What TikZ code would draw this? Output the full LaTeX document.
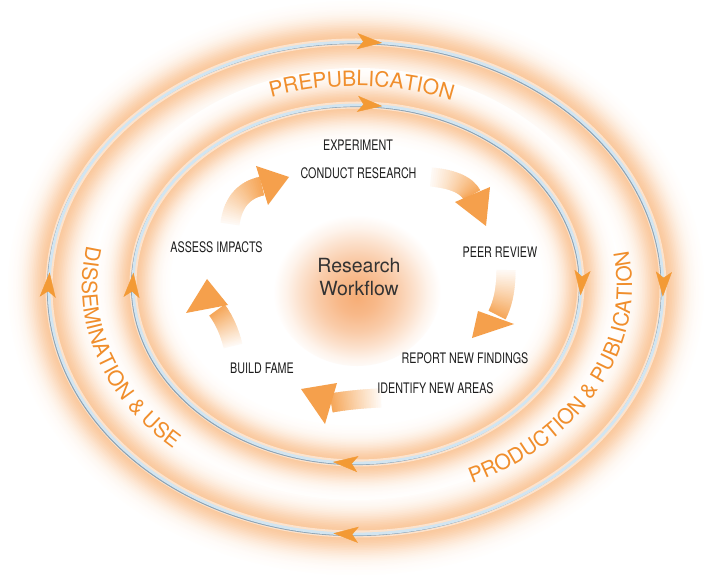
\documentclass[tikz,border=0pt]{standalone}
\usepackage{fontspec}
\usetikzlibrary{calc,arrows.meta,decorations.markings,decorations.text}
\newfontfamily\heros{TeX Gyre Heros}
\newfontfamily\heroscond[FakeStretch=0.74]{TeX Gyre Heros}
\definecolor{glowOrange}{HTML}{F7A55E}
\definecolor{arrowOrange}{HTML}{F39A35}
\definecolor{bandOrange}{HTML}{F08E2C}
\definecolor{blk}{HTML}{F5A04C}
\definecolor{lineBlue}{HTML}{D2E5F1}
\definecolor{lineGray}{HTML}{8CA3B5}
\definecolor{centerOrange}{HTML}{F5A060}
\definecolor{labelBlack}{HTML}{1E1E1E}
\definecolor{titleGray}{HTML}{333333}
\pgfdeclareradialshading{cglow}{\pgfpoint{0bp}{-3bp}}{color(0bp)=(centerOrange!86!white); color(6bp)=(centerOrange!74!white); color(12bp)=(centerOrange!54!white); color(17bp)=(centerOrange!32!white); color(21bp)=(centerOrange!13!white); color(24bp)=(centerOrange!3!white); color(25bp)=(white); color(50bp)=(white)}
\newcommand\bandfont{\heros\fontsize{21}{21}\selectfont}
\tikzset{
  ringtip/.tip={Stealth[length=25pt,width=16pt,inset=6pt,color=arrowOrange,fill=arrowOrange]},
  lbl/.style={font=\heroscond\fontsize{14.5}{16}\selectfont, text=labelBlack, inner sep=0pt},
  shaft/.style={line width=19pt},
  headfill/.style={fill=blk, draw=none},
  bandtext/.style={decorate, decoration={text along path, text={|\bandfont|#1}, text align=center, text color=bandOrange}}
}
\newcommand\ringglow[4]{%
  \foreach \glk in {0,...,23}{%
    \pgfmathsetmacro\gld{#4*(1-\glk/24)}%
    \pgfmathsetmacro\glw{2*\gld+2}%
    \pgfmathsetmacro\glp{62*exp(0-(\gld/(#4*0.5))*(\gld/(#4*0.5)))}%
    \draw[line width=\glw pt, color=glowOrange!\glp!white] (#1) ellipse[x radius=#2, y radius=#3];
  }%
}
\newcommand\shaftgrad[3]{%
  \foreach \sgi in {0,...,29}{%
    \pgfmathsetmacro\sga{\sgi/30}%
    \pgfmathsetmacro\sgb{min(1,(\sgi+1.6)/30)}%
    \pgfmathsetmacro\sgp{6+86*\sgi/29}%
    \coordinate (qa) at ($(#1)!\sga!(#2)$);%
    \coordinate (qb) at ($(#2)!\sga!(#3)$);%
    \coordinate (qc) at ($(#1)!\sgb!(#2)$);%
    \coordinate (qd) at ($(#2)!\sgb!(#3)$);%
    \draw[shaft, color=blk!\sgp!white] ($(qa)!\sga!(qb)$) -- ($(qc)!\sgb!(qd)$);%
  }%
}
\begin{document}
\begin{tikzpicture}[x=1pt,y=1pt]
\useasboundingbox (0,0) rectangle (714,576);
\fill[white] (0,0) rectangle (714,576);
\coordinate (Co) at (356,288);
\coordinate (Ci) at (357,292);
\coordinate (Ct) at (356,290);
\coordinate (Cc) at (357,288);
% glows
\ringglow{Co}{307pt}{246pt}{40}
\ringglow{Ci}{224pt}{179pt}{36}
\shade[shading=cglow] (Cc) ellipse[x radius=84pt, y radius=78pt];
% ring lines
\draw[white, line width=7pt, opacity=.5] (Co) ellipse[x radius=307pt, y radius=246pt];
\draw[lineGray, line width=1.4pt] ($(Co)+(-1.4,-1.4)$) ellipse[x radius=307pt, y radius=246pt];
\draw[lineBlue, line width=2.8pt] (Co) ellipse[x radius=307pt, y radius=246pt];
\draw[white, line width=7pt, opacity=.5] (Ci) ellipse[x radius=224pt, y radius=179pt];
\draw[lineGray, line width=1.4pt] ($(Ci)+(-1.4,-1.4)$) ellipse[x radius=224pt, y radius=179pt];
\draw[lineBlue, line width=2.8pt] (Ci) ellipse[x radius=224pt, y radius=179pt];
% ring arrowheads
\path[postaction={decorate}, decoration={markings,
  mark=at position 0.015 with {\arrow{ringtip}},
  mark=at position 0.255 with {\arrow{ringtip}},
  mark=at position 0.513 with {\arrow{ringtip}},
  mark=at position 0.759 with {\arrow{ringtip}}}]
  ($(Co)+(0,246)$) arc[start angle=90, end angle=-270, x radius=307pt, y radius=246pt];
\path[postaction={decorate}, decoration={markings,
  mark=at position 0.020 with {\arrow{ringtip}},
  mark=at position 0.259 with {\arrow{ringtip}},
  mark=at position 0.519 with {\arrow{ringtip}},
  mark=at position 0.759 with {\arrow{ringtip}}}]
  ($(Ci)+(0,179)$) arc[start angle=90, end angle=-270, x radius=224pt, y radius=179pt];
% band texts
\path[bandtext={PREPUBLICATION}]
  ($(Ct)+(148.5:258pt and 200pt)$) arc[start angle=148.5, end angle=28.5, x radius=258pt, y radius=200pt];
\path[bandtext={DISSEMINATION {\&} USE}]
  ($(Ct)+(140:274pt and 218pt)$) arc[start angle=140, end angle=254, x radius=274pt, y radius=218pt];
\path[bandtext={PRODUCTION {\&} PUBLICATION}]
  ($(Ct)+(-84:276pt and 218pt)$) arc[start angle=-84, end angle=32, x radius=276pt, y radius=218pt];
% block arrows
\coordinate (a1p0) at (230,352); \coordinate (a1p1) at (234,384); \coordinate (a1p2) at (262,390);
\coordinate (a1h1) at (256,410); \coordinate (a1h2) at (268,371); \coordinate (a1tip) at (289,399);
\coordinate (a2p0) at (431,399); \coordinate (a2p1) at (464,396); \coordinate (a2p2) at (472,381);
\coordinate (a2h1) at (455,374); \coordinate (a2h2) at (490,389); \coordinate (a2tip) at (486,350);
\coordinate (a3p0) at (506,306); \coordinate (a3p1) at (506,278); \coordinate (a3p2) at (497,261);
\coordinate (a3h1) at (478,265); \coordinate (a3h2) at (514,252); \coordinate (a3tip) at (472,238);
\coordinate (a4p0) at (381,178); \coordinate (a4p1) at (354,177); \coordinate (a4p2) at (331,173);
\coordinate (a4h1) at (337,193); \coordinate (a4h2) at (325,152); \coordinate (a4tip) at (301,187);
\coordinate (a5p0) at (233,230); \coordinate (a5p1) at (228,251); \coordinate (a5p2) at (217,266);
\coordinate (a5h1) at (186,263); \coordinate (a5h2) at (228,271); \coordinate (a5tip) at (207,297);
\shaftgrad{a1p0}{a1p1}{a1p2}
\fill[headfill] (a1h1) -- (a1tip) -- (a1h2) -- cycle;
\shaftgrad{a2p0}{a2p1}{a2p2}
\fill[headfill] (a2h1) -- (a2tip) -- (a2h2) -- cycle;
\shaftgrad{a3p0}{a3p1}{a3p2}
\fill[headfill] (a3h1) -- (a3tip) -- (a3h2) -- cycle;
\shaftgrad{a4p0}{a4p1}{a4p2}
\fill[headfill] (a4h1) -- (a4tip) -- (a4h2) -- cycle;
\shaftgrad{a5p0}{a5p1}{a5p2}
\fill[headfill] (a5h1) -- (a5tip) -- (a5h2) -- cycle;
% labels
\node[lbl] (exp) at (358,431) {EXPERIMENT};
\node[lbl] (cond) at (358.5,403) {CONDUCT RESEARCH};
\node[lbl] (peer) at (500,324) {PEER REVIEW};
\node[lbl] (report) at (465,218) {REPORT NEW FINDINGS};
\node[lbl] (ident) at (435.5,188) {IDENTIFY NEW AREAS};
\node[lbl] (fame) at (262,208) {BUILD FAME};
\node[lbl] (assess) at (216.5,329) {ASSESS IMPACTS};
\node[font=\heros\fontsize{19.5}{23.5}\selectfont, text=titleGray, align=center, inner sep=0pt] (rw) at (359,299) {Research\\Workflow};
\end{tikzpicture}
\end{document}
